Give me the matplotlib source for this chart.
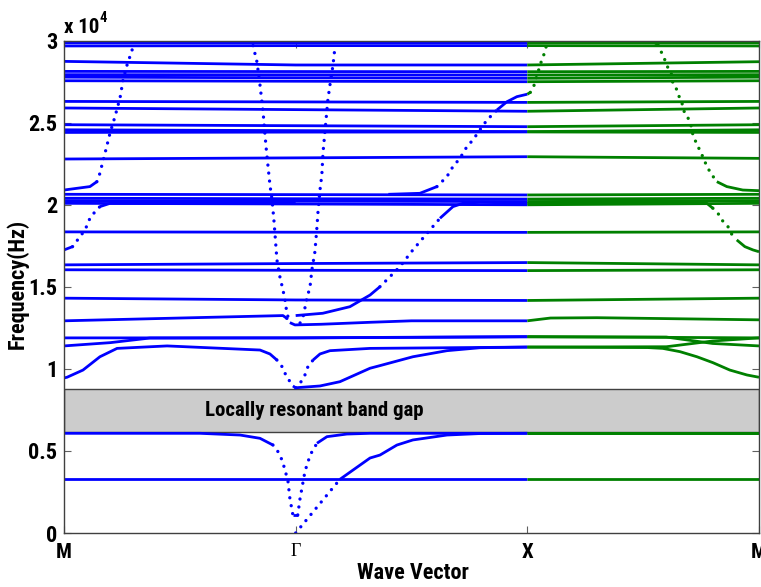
import numpy as np
import matplotlib
matplotlib.use("Agg")
import matplotlib.pyplot as plt
from matplotlib.patches import Rectangle
from matplotlib import font_manager as fm

# ------------------------------------------------------------------ data
sym_pos = [0, 1, 2, 3]
sym_labels = ["M", "Γ", "X", "M"]
ytick_vals = [0, 5000, 10000, 15000, 20000, 25000, 30000]
ytick_labels = ["0", "0.5", "1", "1.5", "2", "2.5", "3"]
gap_bottom, gap_top = 6170, 8760
gap_text = "Locally resonant band gap"

# nearly flat bands: frequency (Hz) at M, Gamma, X, M
flat_k = [0, 1, 2, 3]
flat_a = [3270, 3270, 3270, 3270]
flat_b = [11890, 11890, 11970, 11890]
flat_c = [14310, 14200, 14170, 14310]
flat_d = [16040, 16010, 15990, 16040]
flat_e = [16340, 16420, 16480, 16340]
flat_f = [18350, 18330, 18320, 18350]
flat_g = [20640, 20620, 20600, 20640]
flat_h = [20400, 20370, 20350, 20400]
flat_i = [20250, 20220, 20200, 20250]
flat_j = [20090, 20050, 20000, 20090]
flat_k2 = [22790, 22860, 22930, 22830]
flat_l = [24410, 24430, 24440, 24410]
flat_m = [24570, 24520, 24460, 24570]
flat_n = [24880, 24820, 24760, 24880]
flat_o = [25900, 25800, 25700, 25900]
flat_p = [26300, 26270, 26240, 26300]
flat_q = [27560, 27530, 27500, 27560]
flat_r = [27780, 27740, 27710, 27780]
flat_s = [27930, 27920, 27910, 27930]
flat_t = [28130, 28120, 28110, 28130]
flat_u = [28740, 28520, 28520, 28720]
flat_v = [29680, 29700, 29700, 29680]
flat_w = [29870, 29880, 29880, 29870]

# curved bands: (wave-vector position, frequency Hz)
b2_k = [0, 0.587, 0.760, 0.846, 0.902, 0.924, 0.941, 0.954, 0.967, 0.975, 0.988,
        1.009, 1.019, 1.040, 1.053, 1.070, 1.092, 1.135, 1.221, 1.321, 2.0, 3.0]
b2_f = [6075, 6075, 5970, 5770, 5360, 4950, 4450, 3840, 3130, 2110, 1100,
        1100, 2110, 3740, 4350, 4950, 5470, 5870, 6030, 6075, 6075, 6075]

ac_k = [1.0, 1.191, 1.321, 1.364, 1.437, 1.506, 1.653, 1.795, 2.0, 3.0]
ac_f = [0, 3270, 4570, 4750, 5360, 5670, 5970, 6060, 6075, 6075]

b3_k = [0, 0.013, 0.082, 0.155, 0.229, 0.445, 0.846, 0.889, 0.919, 0.941, 0.954,
        0.971, 0.988, 1.0, 1.019, 1.040, 1.053, 1.075, 1.105, 1.148, 1.321, 2.0,
        2.52, 2.585, 2.659, 2.732, 2.801, 2.874, 2.948, 3.0]
b3_f = [9450, 9490, 9930, 10740, 11250, 11400, 11150, 10910, 10540, 10140, 9730,
        9320, 8960, 8850, 9120, 9630, 10140, 10540, 10910, 11110, 11250, 11330,
        11300, 11250, 11050, 10740, 10380, 9930, 9630, 9490]

b4_k = [0, 0.2, 0.37, 1.0, 2.0, 2.6, 2.8, 3.0]
b4_f = [11400, 11600, 11880, 11890, 11950, 11940, 11550, 11400]

b6_k = [1.0, 1.105, 1.191, 1.321, 1.364, 1.506, 1.653, 1.795, 2.0, 2.6, 2.8, 3.0]
b6_f = [8850, 8960, 9220, 10040, 10200, 10740, 11110, 11290, 11330, 11350, 11700, 11890]

b7_k = [0, 0.5, 0.945, 0.962, 0.975, 0.997, 1.11, 1.321, 1.5, 2.0, 2.1, 2.3, 3.0]
b7_f = [12930, 13100, 13250, 13080, 12820, 12680, 12720, 12840, 12930, 12930, 13100, 13120, 12990]

b8_k = [1.0, 1.117, 1.234, 1.321, 1.364, 1.450, 1.506, 1.567, 1.623, 1.679, 1.722,
        1.795, 2.0, 2.7, 2.775, 2.801, 2.823, 2.840, 2.866, 2.884, 2.904, 2.939, 2.974, 3.0]
b8_f = [13250, 13390, 13790, 14500, 15010, 16230, 17250, 18260, 19180, 19890, 20090,
        20150, 20100, 20090, 20090, 19790, 19480, 19070, 18670, 18160, 17860, 17450, 17250, 17140]

b9_k = [1.40, 1.536, 1.610, 1.653, 1.679, 1.709, 1.739, 1.765, 1.795, 1.826, 1.869,
        1.912, 1.955, 2.0, 2.013, 2.025, 2.04, 2.06, 2.076, 2.085]
b9_f = [20640, 20700, 21110, 21720, 22330, 22830, 23540, 23950, 24560, 25170, 25780,
        26280, 26590, 26740, 26850, 27100, 27800, 28720, 29330, 29880]

rise_k = [0, 0.037, 0.069, 0.091, 0.112, 0.134, 0.155, 0.199, 1.0]
rise_f = [17250, 17450, 18060, 18470, 19180, 19580, 19890, 20090, 20100]

top_k = [0, 0.112, 0.142, 0.155, 0.164, 0.177, 0.199, 0.220, 0.242, 0.255, 0.276, 0.293, 0.298]
top_f = [20900, 21110, 21410, 21920, 22430, 23140, 24390, 25370, 26520, 27620, 28720, 29330, 29880]

gd_k = [2.55, 2.564, 2.581, 2.594, 2.602, 2.611, 2.624, 2.628, 2.646, 2.654, 2.667, 2.672,
        2.689, 2.697, 2.706, 2.715, 2.723, 2.736, 2.745, 2.758, 2.775, 2.797, 2.818, 2.861,
        2.930, 3.0]
gd_f = [29880, 29740, 29230, 28820, 28520, 28210, 27910, 27410, 27000, 26630, 26280, 25780,
        25470, 25170, 24860, 24250, 23950, 23640, 23240, 22930, 22330, 21820, 21410, 21110,
        20900, 20860]

vl_k = [0.816, 0.833, 0.846, 0.859, 0.872, 0.881, 0.889, 0.898, 0.906, 0.911, 0.919,
        0.932, 0.945, 0.954, 0.962, 0.975]
vl_f = [29700, 28700, 27300, 25700, 23550, 22300, 21200, 20300, 19080, 18170, 16650,
        15610, 14820, 14200, 13410, 12800]
vr_k = [1.019, 1.032, 1.049, 1.062, 1.070, 1.083, 1.092, 1.096, 1.105, 1.113, 1.118,
        1.139, 1.148, 1.161, 1.170]
vr_f = [12800, 13170, 14330, 15000, 16040, 17130, 18660, 19500, 20900, 21830, 23170,
        26400, 27300, 28500, 29650]

# ------------------------------------------------------------------ fonts
entries = fm.fontManager.ttflist
names = {f.name for f in entries}
cond_family = None
cond_stretch = None
for cand in ["Liberation Sans Narrow", "DejaVu Sans Condensed", "Noto Sans Condensed",
             "Roboto Condensed", "Open Sans Condensed", "Noto Sans SemiCondensed"]:
    if cand in names:
        cond_family = cand
        break
if cond_family is None:
    for f in entries:
        if ("Narrow" in f.name or "Condensed" in f.name) and "Mono" not in f.name:
            cond_family = f.name
            break
if cond_family is None:
    for f in entries:
        if str(f.stretch) in ("condensed", "semi-condensed", "extra-condensed") and \
                "Mono" not in f.name and "Serif" not in f.name:
            cond_family = f.name
            cond_stretch = f.stretch
            break
if cond_family is None:
    COND = dict(family=["Liberation Sans", "DejaVu Sans"], weight="bold")
    SCALE = 0.86
else:
    COND = dict(family=[cond_family, "DejaVu Sans"], weight="bold")
    if cond_stretch is not None:
        COND["stretch"] = cond_stretch
    SCALE = 1.0

# ------------------------------------------------------------------ figure
W, H = 761, 587
fig = plt.figure(figsize=(W / 100, H / 100), dpi=100)
ax_l, ax_r, ax_t, ax_b = 64, 759, 40.7, 533
ax = fig.add_axes([ax_l / W, (H - ax_b) / H, (ax_r - ax_l) / W, (ax_b - ax_t) / H])
ax.set_xlim(0, 3)
ax.set_ylim(0, 30000)

PX_PER_K = (ax_r - ax_l) / 3.0
PX_PER_HZ = (ax_b - ax_t) / 30000.0
BLUE = "#0000ff"
GREEN = "#008000"


def draw_band(k, f, steep=0.9):
    k = np.asarray(k, float)
    f = np.asarray(f, float)
    for lo, hi, color in [(0, 2, BLUE), (2, 3, GREEN)]:
        m = (k >= lo) & (k <= hi)
        kk, ff = k[m], f[m]
        if len(kk) < 2:
            continue
        slopes = np.abs(np.diff(ff)) * PX_PER_HZ / (np.diff(kk) * PX_PER_K)
        flags = slopes > steep
        start = 0
        n = len(flags)
        for i in range(1, n + 1):
            if i == n or flags[i] != flags[start]:
                sk, sf = kk[start:i + 1], ff[start:i + 1]
                if flags[start]:
                    ax.plot(sk, sf, color=color, lw=2.4, linestyle=(0, (0.01, 2.4)),
                            dash_capstyle="round", zorder=2)
                else:
                    ax.plot(sk, sf, color=color, lw=2.0, solid_capstyle="butt",
                            solid_joinstyle="round", zorder=2)
                start = i


flat_bands = [flat_a, flat_b, flat_c, flat_d, flat_e, flat_f, flat_g, flat_h, flat_i,
              flat_j, flat_k2, flat_l, flat_m, flat_n, flat_o, flat_p, flat_q, flat_r,
              flat_s, flat_t, flat_u, flat_v, flat_w]
for fb in flat_bands:
    draw_band(flat_k, fb)

for kk, ff in [(b2_k, b2_f), (ac_k, ac_f), (b3_k, b3_f), (b4_k, b4_f), (b6_k, b6_f),
               (b7_k, b7_f), (b8_k, b8_f), (b9_k, b9_f), (rise_k, rise_f),
               (top_k, top_f), (gd_k, gd_f)]:
    draw_band(kk, ff)
for kk, ff in [(vl_k, vl_f), (vr_k, vr_f)]:
    draw_band(kk, ff, steep=0.0)

# band gap box
ax.add_patch(Rectangle((0, gap_bottom), 3, gap_top - gap_bottom, facecolor="#cccccc",
                       edgecolor="#404040", lw=1.0, zorder=1))
ax.text(1.08, (gap_bottom + gap_top) / 2, gap_text, ha="center", va="center",
        fontsize=15 * SCALE, color="black", zorder=4, **COND)

# axes styling
for sp in ax.spines.values():
    sp.set_color("#404040")
    sp.set_linewidth(1.0)
ax.set_yticks(ytick_vals)
ax.set_yticklabels(ytick_labels, fontsize=16 * SCALE, **COND)
ax.set_xticks(sym_pos)
ax.set_xticklabels(sym_labels)
for lab, name in zip(ax.get_xticklabels(), sym_labels):
    if name == "Γ":
        lab.set_fontfamily(["Liberation Serif", "DejaVu Serif"])
        lab.set_fontsize(13)
        lab.set_fontweight("normal")
    else:
        lab.set_fontsize(15 * SCALE)
        lab.set_fontweight("bold")
        lab.set_fontfamily(COND["family"])
        if "stretch" in COND:
            lab.set_fontstretch(COND["stretch"])
ax.tick_params(axis="both", direction="in", length=5, width=0.8, color="#606060",
               top=True, right=True, labelcolor="black")
ax.tick_params(axis="y", pad=5)
ax.tick_params(axis="x", pad=7)

ax.set_xlabel("Wave Vector", fontsize=16 * SCALE, **COND)
ax.xaxis.set_label_coords((413 - ax_l) / (ax_r - ax_l), -(573 - ax_b) / (ax_b - ax_t))
ax.xaxis.label.set_verticalalignment("center")
ax.set_ylabel("Frequency(Hz)", fontsize=16 * SCALE, **COND)
ax.yaxis.set_label_coords(-(ax_l - 17) / (ax_r - ax_l), (ax_b - 284) / (ax_b - ax_t))
ax.yaxis.label.set_verticalalignment("center")

ax.text(0.0, 1.0 + (ax_t - 33) / (ax_b - ax_t), "x 10", transform=ax.transAxes,
        ha="left", va="baseline", fontsize=15 * SCALE, **COND)
ax.text((99 - ax_l) / (ax_r - ax_l), 1.0 + (ax_t - 22) / (ax_b - ax_t), "4",
        transform=ax.transAxes, ha="left", va="baseline", fontsize=10.5 * SCALE, **COND)

fig.savefig("out.png", dpi=100)
